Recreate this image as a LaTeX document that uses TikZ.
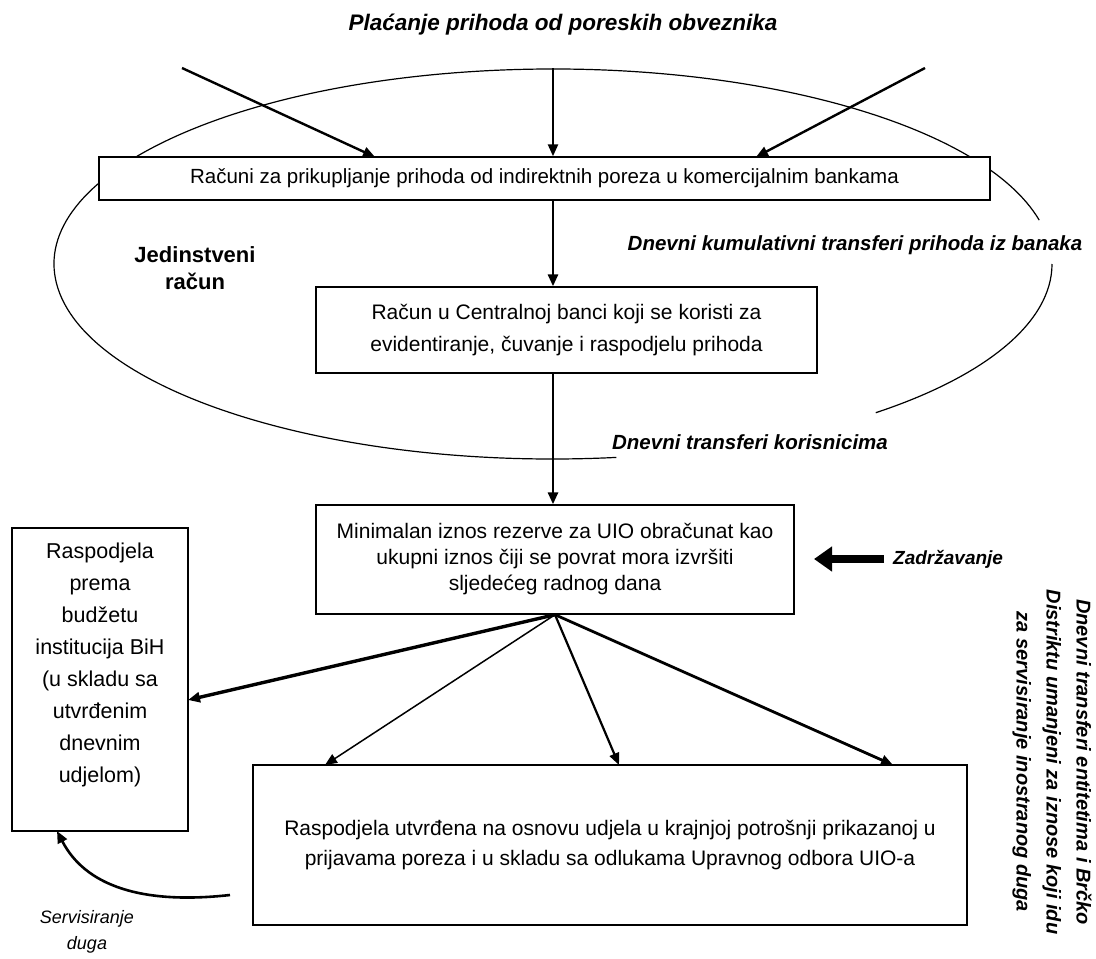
\documentclass[tikz,border=0pt]{standalone}
\usepackage{fontspec}
\setmainfont{Liberation Sans}
\usetikzlibrary{arrows.meta,calc}
\begin{document}
\begin{tikzpicture}[x=1pt,y=-1pt,
  box/.style={draw, line width=1.4pt, fill=white, inner sep=0pt, align=center},
  lbl/.style={font=\bfseries\itshape\fontsize{20.5}{24}\selectfont, inner sep=0pt},
  arr/.style={-{Triangle[length=12pt,width=10pt]}, line width=2.4pt},
  ell/.style={line width=1.2pt}]
\useasboundingbox (0,0) rectangle (1096,959);
\fill[white] (0,0) rectangle (1096,959);

% ellipse (drawn first, covered by box1)
\draw[ell] (616.4,457.4) arc[start angle=82.7, end angle=347, x radius=499, y radius=195];
\draw[ell] (1052,264) arc[start angle=0, end angle=49.7, x radius=499, y radius=195];

% title
\node[lbl, font=\bfseries\itshape\fontsize{22.5}{26}\selectfont] (title) at (563,25) {Plaćanje prihoda od poreskih obveznika};

% box 1
\node[box, minimum width=891, minimum height=43, font=\fontsize{20.5}{24}\selectfont] (b1) at (544.5,178.5)
  {Računi za prikupljanje prihoda od indirektnih poreza u komercijalnim bankama};

% incoming arrows
\coordinate (s1) at (182,68);
\coordinate (s2) at (553,68);
\coordinate (s3) at (925,68);
\coordinate (t1) at (375,157);
\coordinate (t3) at (756,157);
\draw[arr] (s1) -- (t1);
\draw[arr] (s2) -- (b1.north -| s2);
\draw[arr] (s3) -- (t3);

% labels in ellipse
\node[font=\bfseries\fontsize{22}{27}\selectfont, align=center] (jr) at (195,268) {Jedinstveni\\račun};
\node[lbl] (dk) at (855,245) {Dnevni kumulativni transferi prihoda iz banaka};

% box 2
\node[box, minimum width=501, minimum height=86, font=\fontsize{21}{32}\selectfont] (b2) at (566.5,330)
  {Račun u Centralnoj banci koji se koristi za\\evidentiranje, čuvanje i raspodjelu prihoda};
\draw[arr, line width=2.8pt] (b1.south -| s2) -- (b2.north -| s2);

\node[lbl] (dtk) at (750,442) {Dnevni transferi korisnicima};

% box 3
\node[box, minimum width=478, minimum height=109, font=\fontsize{21}{26}\selectfont] (b3) at (555,559.5)
  {Minimalan iznos rezerve za UIO obračunat kao\\ukupni iznos čiji se povrat mora izvršiti\\sljedećeg radnog dana};
\draw[arr, line width=2.8pt] (b2.south -| s2) -- (b3.north -| s2);

% Zadrzavanje
\node[lbl, anchor=west, font=\bfseries\itshape\fontsize{19}{22}\selectfont] (zad) at (893,559) {Zadržavanje};
\coordinate (z0) at (884,559);
\coordinate (z1) at (814,559);
\draw[line width=7.5pt, -{Triangle[length=18pt,width=24pt]}] (z0) -- (z1);

% left box
\node[box, minimum width=176, minimum height=303] (lb) at (100,679.5) {};
\node[anchor=north, align=center, inner sep=0pt, font=\fontsize{21.5}{32}\selectfont] (lbt) at (100,543)
  {Raspodjela\\prema\\budžetu\\institucija BiH\\(u skladu sa\\utvrđenim\\dnevnim\\udjelom)};

% box 4
\node[box, minimum width=714, minimum height=160, font=\fontsize{21}{30}\selectfont] (b4) at (610,845)
  {Raspodjela utvrđena na osnovu udjela u krajnjoj potrošnji prikazanoj u\\prijavama poreza i u skladu sa odlukama Upravnog odbora UIO-a};

% fan arrows
\coordinate (g1) at (188,700);
\coordinate (g2) at (325,765);
\coordinate (g3) at (619,765);
\coordinate (g4) at (893,765);
\draw[arr, line width=3.4pt] (b3.south) -- (g1);
\draw[arr, line width=1.5pt] (b3.south) -- (g2);
\draw[arr, line width=2.2pt] (b3.south) -- (g3);
\draw[arr, line width=2.8pt] (b3.south) -- (g4);

% servisiranje duga
\coordinate (sv) at (230,895);
\coordinate (svt) at (57,831);
\draw[arr, line width=2.6pt] (sv) .. controls (140,905) and (85,885) .. (svt);
\node[font=\itshape\fontsize{18}{26}\selectfont, align=center] (svl) at (87,932) {Servisiranje\\duga};

% vertical text
\node[font=\bfseries\itshape\fontsize{20}{30}\selectfont, align=center, rotate=-90] (vt) at (1052,762)
  {Dnevni transferi entitetima i Brčko\\Distriktu umanjeni za iznose koji idu\\za servisiranje inostranog duga};
\end{tikzpicture}
\end{document}
